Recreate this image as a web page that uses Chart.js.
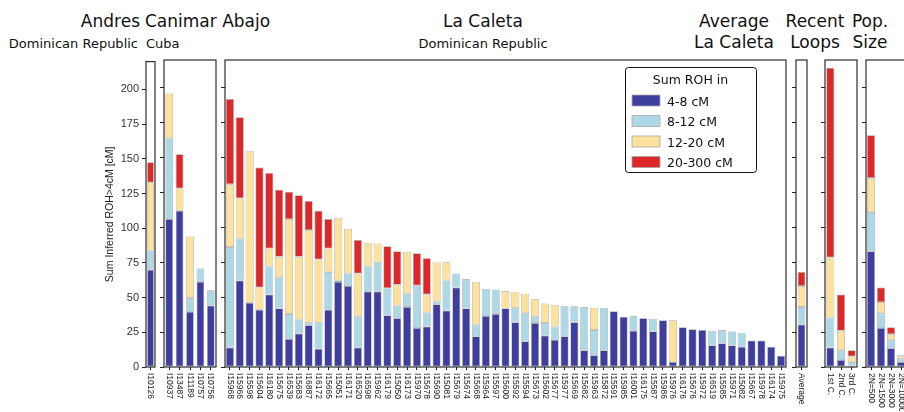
<!DOCTYPE html>
<html>
<head>
<meta charset="utf-8">
<script src="https://cdn.jsdelivr.net/npm/chart.js@4.4.1/dist/chart.umd.min.js"></script>
<style>
  html, body { margin: 0; padding: 0; background: #fff; }
  body { width: 904px; height: 412px; overflow: hidden; position: relative; }
  .panel { position: absolute; }
  .panel canvas { display: block; }
  .t { position: absolute; font-family: "DejaVu Sans", sans-serif; color: #111; white-space: nowrap; }
  .big { font-size: 17px; line-height: 21px; }
  .small { font-size: 13px; line-height: 15px; }
  .c { text-align: center; }
</style>
</head>
<body>
<div class="t big" style="right:764px; top:11px;">Andres</div>
<div class="t small" style="right:766px; top:36px;">Dominican Republic</div>
<div class="t big" style="left:145px; top:11px;">Canimar Abajo</div>
<div class="t small" style="left:146px; top:36px;">Cuba</div>
<div class="t big c" style="left:383px; width:200px; top:11px;">La Caleta</div>
<div class="t small c" style="left:383px; width:200px; top:36px;">Dominican Republic</div>
<div class="t big c" style="left:664px; width:140px; top:11px;">Average<br>La Caleta</div>
<div class="t big c" style="left:775px; width:80px; top:11px;">Recent<br>Loops</div>
<div class="t big c" style="left:830px; width:80px; top:11px;">Pop.<br>Size</div>

<script>
// ---- Summed runs of homozygosity (cM) per individual, split by ROH length class ----
const SERIES = ['4-8 cM', '8-12 cM', '12-20 cM', '20-300 cM'];
const COLORS = ['#3e3e9e', '#add8e6', '#fde29d', '#dc2828'];
const EDGE = '#a9a9a9';

const andresIds = ['I10126'];
const andres4to8 = [70];
const andres8to12 = [14];
const andres12to20 = [49];
const andres20to300 = [14.5];

const canimarIds = ['I10937', 'I13487', 'I11189', 'I10757', 'I10756'];
const canimar4to8 = [106, 112, 39.5, 61, 44];
const canimar8to12 = [58, 0, 10, 9.5, 11];
const canimar12to20 = [32, 16, 44, 0, 0];
const canimar20to300 = [0, 24.5, 0, 0, 0];

const caletaIds = ['I15968', 'I15966', 'I15598', 'I15604', 'I16180', 'I15675', 'I16539', 'I15683', 'I16887', 'I16172',
  'I15665', 'I15051', 'I16171', 'I16520', 'I16598', 'I15962', 'I16179', 'I15050', 'I16173', 'I15970',
  'I15678', 'I15690', 'I15081', 'I15679', 'I15674', 'I15668', 'I15964', 'I15597', 'I15600', 'I15592',
  'I15594', 'I15673', 'I15602', 'I15677', 'I15977', 'I15669', 'I15682', 'I15963', 'I15872', 'I15591',
  'I15985', 'I16001', 'I16175', 'I15587', 'I15986', 'I15976', 'I16176', 'I15676', 'I15972', 'I16519',
  'I15585', 'I15971', 'I15082', 'I15667', 'I15978', 'I16174', 'I15975'];
const caleta4to8 = [14, 62, 46, 41, 52, 42, 20, 24, 30, 13,
  41, 61, 58, 14, 54, 54, 37, 35, 43, 28,
  29, 45, 40.5, 57, 42, 22, 36.5, 38, 42, 32,
  18.5, 31.5, 22.5, 19.5, 22, 32, 12, 8.5, 12, 40,
  36, 26, 35, 25.5, 33.5, 3.5, 28.5, 27, 26.5, 15.5,
  17, 15.5, 14.5, 19, 19, 14.5, 8];
const caleta8to12 = [72, 30, 0, 0, 20, 22, 18, 10, 2, 19,
  27, 1, 9, 22, 18, 21, 19.5, 9, 9.5, 30.5,
  10, 2, 21.5, 10, 21, 8.5, 19.5, 17.5, 0, 10.5,
  20, 4.5, 9, 9.5, 21.5, 11.5, 31, 18, 30.5, 0,
  0, 10.5, 0, 9, 0, 0, 0, 0, 0, 10.5,
  9.5, 10, 10, 0, 0, 0, 0];
const caleta12to20 = [45, 29, 109, 16, 13, 15, 68, 45, 66, 45,
  17, 45, 32, 31, 17, 13.5, 0, 15, 30, 0,
  13, 28.5, 13, 0, 0, 30.5, 0, 0, 12.5, 11.5,
  14, 12.5, 14, 15.5, 0, 0, 0, 16, 0, 0,
  0, 0, 0, 0, 0, 30, 0, 0, 0, 0,
  0, 0, 0, 0, 0, 0, 0];
const caleta20to300 = [61, 58, 0, 86, 54, 48, 19.5, 44, 21, 35,
  21, 0, 0, 24, 0, 0, 30, 24, 0, 23,
  26, 0, 0, 0, 0, 0, 0, 0, 0, 0,
  0, 0, 0, 0, 0, 0, 0, 0, 0, 0,
  0, 0, 0, 0, 0, 0, 0, 0, 0, 0,
  0, 0, 0, 0, 0, 0, 0];

const averageIds = ['Average'];
const average4to8 = [30.5];
const average8to12 = [12.5];
const average12to20 = [15];
const average20to300 = [10];

const loopIds = ['1st C.', '2nd C.', '3rd C.'];
const loop4to8 = [14, 5, 1];
const loop8to12 = [21.5, 7, 2.5];
const loop12to20 = [43, 14, 4];
const loop20to300 = [136, 26, 4.5];

const popIds = ['2N=500', '2N=1500', '2N=3000', '2N=10000'];
const pop4to8 = [83, 28, 13.5, 3.5];
const pop8to12 = [28, 10.5, 6, 2.5];
const pop12to20 = [24.5, 8, 4, 1.5];
const pop20to300 = [30.5, 10.5, 5, 1];

const Y_MAX = 220;
const Y_STEP = 25;

// ---- layout of the plot frames on the page ----
const PLOT_TOP = 60, PLOT_BOTTOM = 367;
const PAD_TOP = 8, PAD_RIGHT = 3, X_AXIS_H = 44;

// frame around each plot area, vertical sample labels and the optional legend
const panelDecor = {
  id: 'panelDecor',
  afterDraw(chart, args, opts) {
    const { ctx, chartArea: a } = chart;
    const xs = chart.scales.x;
    ctx.save();
    ctx.strokeStyle = '#1b1b1b';
    ctx.lineWidth = 1.1;
    ctx.strokeRect(a.left, a.top, a.right - a.left, a.bottom - a.top);

    ctx.fillStyle = '#222';
    ctx.font = '8.5px "Liberation Sans", Arial, sans-serif';
    ctx.textAlign = 'left';
    ctx.textBaseline = 'middle';
    chart.data.labels.forEach((lab, i) => {
      const px = xs.getPixelForValue(i);
      ctx.save();
      ctx.translate(px, a.bottom + 6);
      ctx.rotate(Math.PI / 2);
      ctx.fillText(lab, 0, 0);
      ctx.restore();
    });

    if (opts && opts.legend) {
      const L = opts.legend;
      const x = L.x - opts.originX, y = L.y - opts.originY;
      ctx.fillStyle = '#fff';
      ctx.strokeStyle = '#111';
      ctx.lineWidth = 1;
      ctx.beginPath();
      ctx.roundRect(x + 0.5, y + 0.5, L.w, L.h, 3);
      ctx.fill();
      ctx.stroke();
      ctx.fillStyle = '#111';
      ctx.font = '12.5px "DejaVu Sans", sans-serif';
      ctx.textAlign = 'center';
      ctx.textBaseline = 'alphabetic';
      ctx.fillText('Sum ROH in', x + L.w / 2, y + 17);
      ctx.textAlign = 'left';
      chart.data.datasets.forEach((ds, i) => {
        const sy = y + 28 + i * 20.5;
        ctx.fillStyle = ds.backgroundColor;
        ctx.fillRect(x + 7, sy, 28, 11);
        ctx.strokeStyle = EDGE;
        ctx.lineWidth = 0.8;
        ctx.strokeRect(x + 7, sy, 28, 11);
        ctx.fillStyle = '#111';
        ctx.fillText(ds.label, x + 42, sy + 10.5);
      });
    }
    ctx.restore();
  }
};

function buildPanel(cfg) {
  const axisW = cfg.axisW || 10;
  const w = (cfg.right - cfg.left) + axisW + PAD_RIGHT;
  const h = (PLOT_BOTTOM - PLOT_TOP) + PAD_TOP + X_AXIS_H;
  const originX = cfg.left - axisW, originY = PLOT_TOP - PAD_TOP;
  const wrap = document.createElement('div');
  wrap.className = 'panel';
  wrap.style.left = originX + 'px';
  wrap.style.top = originY + 'px';
  const cv = document.createElement('canvas');
  cv.width = w; cv.height = h;
  cv.style.width = w + 'px'; cv.style.height = h + 'px';
  wrap.appendChild(cv);
  document.body.appendChild(wrap);

  const datasets = cfg.values.map((v, i) => ({
    label: SERIES[i],
    data: v,
    backgroundColor: COLORS[i],
    borderColor: EDGE,
    borderWidth: 0.7,
    borderSkipped: false,
    barPercentage: cfg.bar,
    categoryPercentage: 1
  }));

  return new Chart(cv, {
    type: 'bar',
    data: { labels: cfg.labels, datasets },
    plugins: [panelDecor],
    options: {
      responsive: false,
      animation: false,
      devicePixelRatio: 1,
      layout: { padding: { top: PAD_TOP, right: PAD_RIGHT, left: 0, bottom: 0 } },
      plugins: {
        legend: { display: false },
        tooltip: { enabled: false },
        panelDecor: { legend: cfg.legend || null, originX, originY }
      },
      scales: {
        x: {
          stacked: true,
          ticks: { display: false },
          grid: { offset: false, drawOnChartArea: false, drawTicks: true, tickLength: 3, color: '#222' },
          border: { display: false },
          afterFit: s => { s.height = X_AXIS_H; }
        },
        y: {
          stacked: true,
          min: 0,
          max: Y_MAX,
          ticks: {
            stepSize: Y_STEP,
            display: !!cfg.yLabels,
            color: '#333',
            padding: 3,
            font: { family: '"Liberation Sans", Arial, sans-serif', size: 11 }
          },
          afterBuildTicks: s => { s.ticks = s.ticks.filter(t => t.value % Y_STEP === 0); },
          grid: { drawOnChartArea: false, drawTicks: true, tickLength: 4, color: '#222' },
          border: { display: false },
          title: {
            display: !!cfg.yLabels,
            text: 'Sum Inferred ROH>4cM [cM]',
            color: '#222',
            padding: { top: 8, bottom: 0 },
            font: { family: '"Liberation Sans", Arial, sans-serif', size: 10.5 }
          },
          afterFit: s => { s.width = axisW; }
        }
      }
    }
  });
}

buildPanel({ left: 146, right: 155, axisW: 50, yLabels: true, bar: 0.75, labels: andresIds,
  values: [andres4to8, andres8to12, andres12to20, andres20to300] });
buildPanel({ left: 164, right: 216, bar: 0.74, labels: canimarIds,
  values: [canimar4to8, canimar8to12, canimar12to20, canimar20to300] });
buildPanel({ left: 225, right: 786, bar: 0.82, labels: caletaIds,
  values: [caleta4to8, caleta8to12, caleta12to20, caleta20to300],
  legend: { x: 625, y: 67, w: 131, h: 105 } });
buildPanel({ left: 796, right: 807, bar: 0.7, labels: averageIds,
  values: [average4to8, average8to12, average12to20, average20to300] });
buildPanel({ left: 825, right: 857, bar: 0.75, labels: loopIds,
  values: [loop4to8, loop8to12, loop12to20, loop20to300] });
buildPanel({ left: 866, right: 906, bar: 0.8, labels: popIds,
  values: [pop4to8, pop8to12, pop12to20, pop20to300] });
</script>
</body>
</html>
